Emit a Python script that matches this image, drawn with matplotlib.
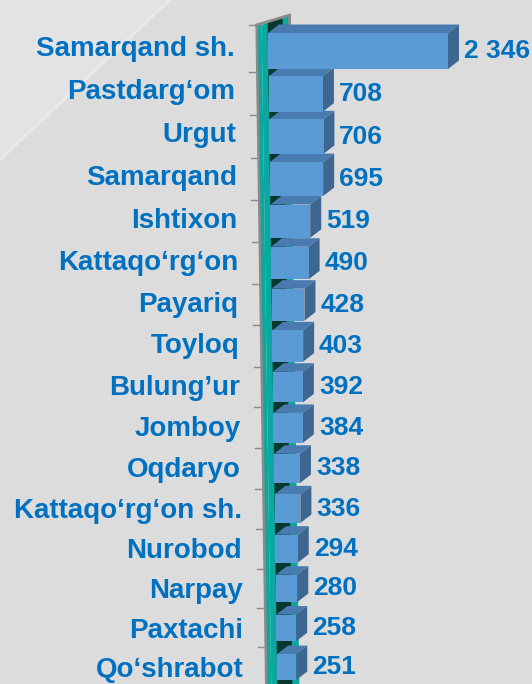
import matplotlib.pyplot as plt
from matplotlib.patches import Polygon

# datos
tumanlar = ["Samarqand sh.", "Pastdarg‘om", "Urgut", "Samarqand", "Ishtixon",
            "Kattaqo‘rg‘on", "Payariq", "Toyloq", "Bulung’ur", "Jomboy",
            "Oqdaryo", "Kattaqo‘rg‘on sh.", "Nurobod", "Narpay", "Paxtachi",
            "Qo‘shrabot"]
qiymatlar = [2346, 708, 706, 695, 519, 490, 428, 403, 392, 384,
             338, 336, 294, 280, 258, 251]

ko_k = "#0070C0"      # matn rangi
old = "#5B9BD5"       # old yuz
ust = "#4A7BB0"       # ust yuz
yon = "#3D6690"       # yon yuz
devor = "#0AA89E"
soya = "#07382F"

fig = plt.figure(figsize=(5.32, 6.84), dpi=100)
fig.patch.set_facecolor("#DCDCDC")
# fon: yuqori chapdagi och uchburchak
fig.patches.append(Polygon([(0, 1), (0, 1 - 157 / 684), (167 / 532, 1)],
                           closed=True, transform=fig.transFigure,
                           facecolor="#E3E3E5", edgecolor="none", zorder=0))
fig.lines.append(plt.Line2D([0, 167 / 532], [1 - 157 / 684, 1], transform=fig.transFigure,
                            color="white", alpha=0.4, lw=5, zorder=0))

ax = fig.add_axes([0, 0, 1, 1])
ax.set_zorder(2)
ax.set_facecolor("none")
PX = 2346 / 180.0     # 1 piksel = shuncha birlik (x)
x0 = 268              # nol chizig'i piksel
ax.set_xlim(-x0 * PX, (532 - x0) * PX)
ax.set_ylim(684, 0)   # y piksellarda
ax.axis("off")

n = len(qiymatlar)
dx = 11 * PX
dy = 8.5


def qator_y(r):
    # perspektiva: pastga qarab qatorlar zichlashadi
    return 51 + 43.08 * r - 0.134 * r * r


def asos(r):
    return 0.6 * PX * r


def asos_px(y):
    # y piksel bo'yicha devor siljishi
    return asos((y - 51) / 41.0)


# devor (o'q)
y_top = 25
y_bot = 700
wl = -11 * PX
wr = -6 * PX
ax.add_patch(Polygon([(asos_px(y_top) + wl, y_top), (asos_px(y_top) + wr, y_top),
                      (asos_px(y_bot) + wr, y_bot), (asos_px(y_bot) + wl, y_bot)],
                     closed=True, facecolor=devor, edgecolor="none", zorder=1))
ax.add_patch(Polygon([(asos_px(y_top) + wr, y_top), (asos_px(y_top) + wr + 28 * PX, y_top - 10),
                      (asos_px(y_bot) + wr + 28 * PX, y_bot - 10), (asos_px(y_bot) + wr, y_bot)],
                     closed=True, facecolor=devor, edgecolor="none", zorder=1))
# devor yon yuzidagi soya (ustunlar orasida ko'rinadi)
ax.add_patch(Polygon([(asos_px(y_top), y_top - 2), (asos_px(y_top) + 15 * PX, y_top - 7),
                      (asos_px(y_bot) + 15 * PX, y_bot - 7), (asos_px(y_bot), y_bot - 2)],
                     closed=True, facecolor=soya, edgecolor="none", zorder=1.5))
ax.plot([asos_px(y_top) + wl, asos_px(y_bot) + wl], [y_top, y_bot], color="#8A8A8A", lw=1.8, zorder=2)
ax.plot([asos_px(y_top) + wl, asos_px(y_top) + wr + 28 * PX, asos_px(y_top) + wr + 28 * PX],
        [y_top, y_top - 10, y_top], color="#8A8A8A", lw=2, zorder=2)

# belgilar
chegaralar = [y_top] + [(qator_y(k) + qator_y(k + 1)) / 2 for k in range(n - 1)]
for yy in chegaralar:
    ax.plot([asos_px(yy) + wl - 8 * PX, asos_px(yy) + wl], [yy, yy], color="#8A8A8A", lw=1, zorder=2)

for i in range(n):
    v = qiymatlar[i]
    yc = qator_y(i)
    b = asos(i)
    h = 36 - 10 * i / (n - 1)
    yt = yc - h / 2
    yb = yc + h / 2
    ax.add_patch(Polygon([(b, yt), (b + v, yt), (b + v + dx, yt - dy), (b + dx, yt - dy)],
                         closed=True, facecolor=ust, edgecolor="none", zorder=4))
    ax.add_patch(Polygon([(b + v, yt), (b + v + dx, yt - dy), (b + v + dx, yb - dy), (b + v, yb)],
                         closed=True, facecolor=yon, edgecolor="none", zorder=4))
    ax.barh(yc, v, height=h, left=b, color=old, edgecolor="none", zorder=5)
    ax.text(b - 33 * PX, yc - 2 + 0.35 * i, tumanlar[i], ha="right", va="center",
            fontsize=20, fontweight="bold", color=ko_k, family="Liberation Sans")
    ax.text(b + v + dx + 5 * PX, yc, f"{v:,}".replace(",", " "), ha="left", va="center",
            fontsize=19, fontweight="bold", color=ko_k, family="Liberation Sans")

fig.savefig("out.png", dpi=100, facecolor=fig.get_facecolor())
